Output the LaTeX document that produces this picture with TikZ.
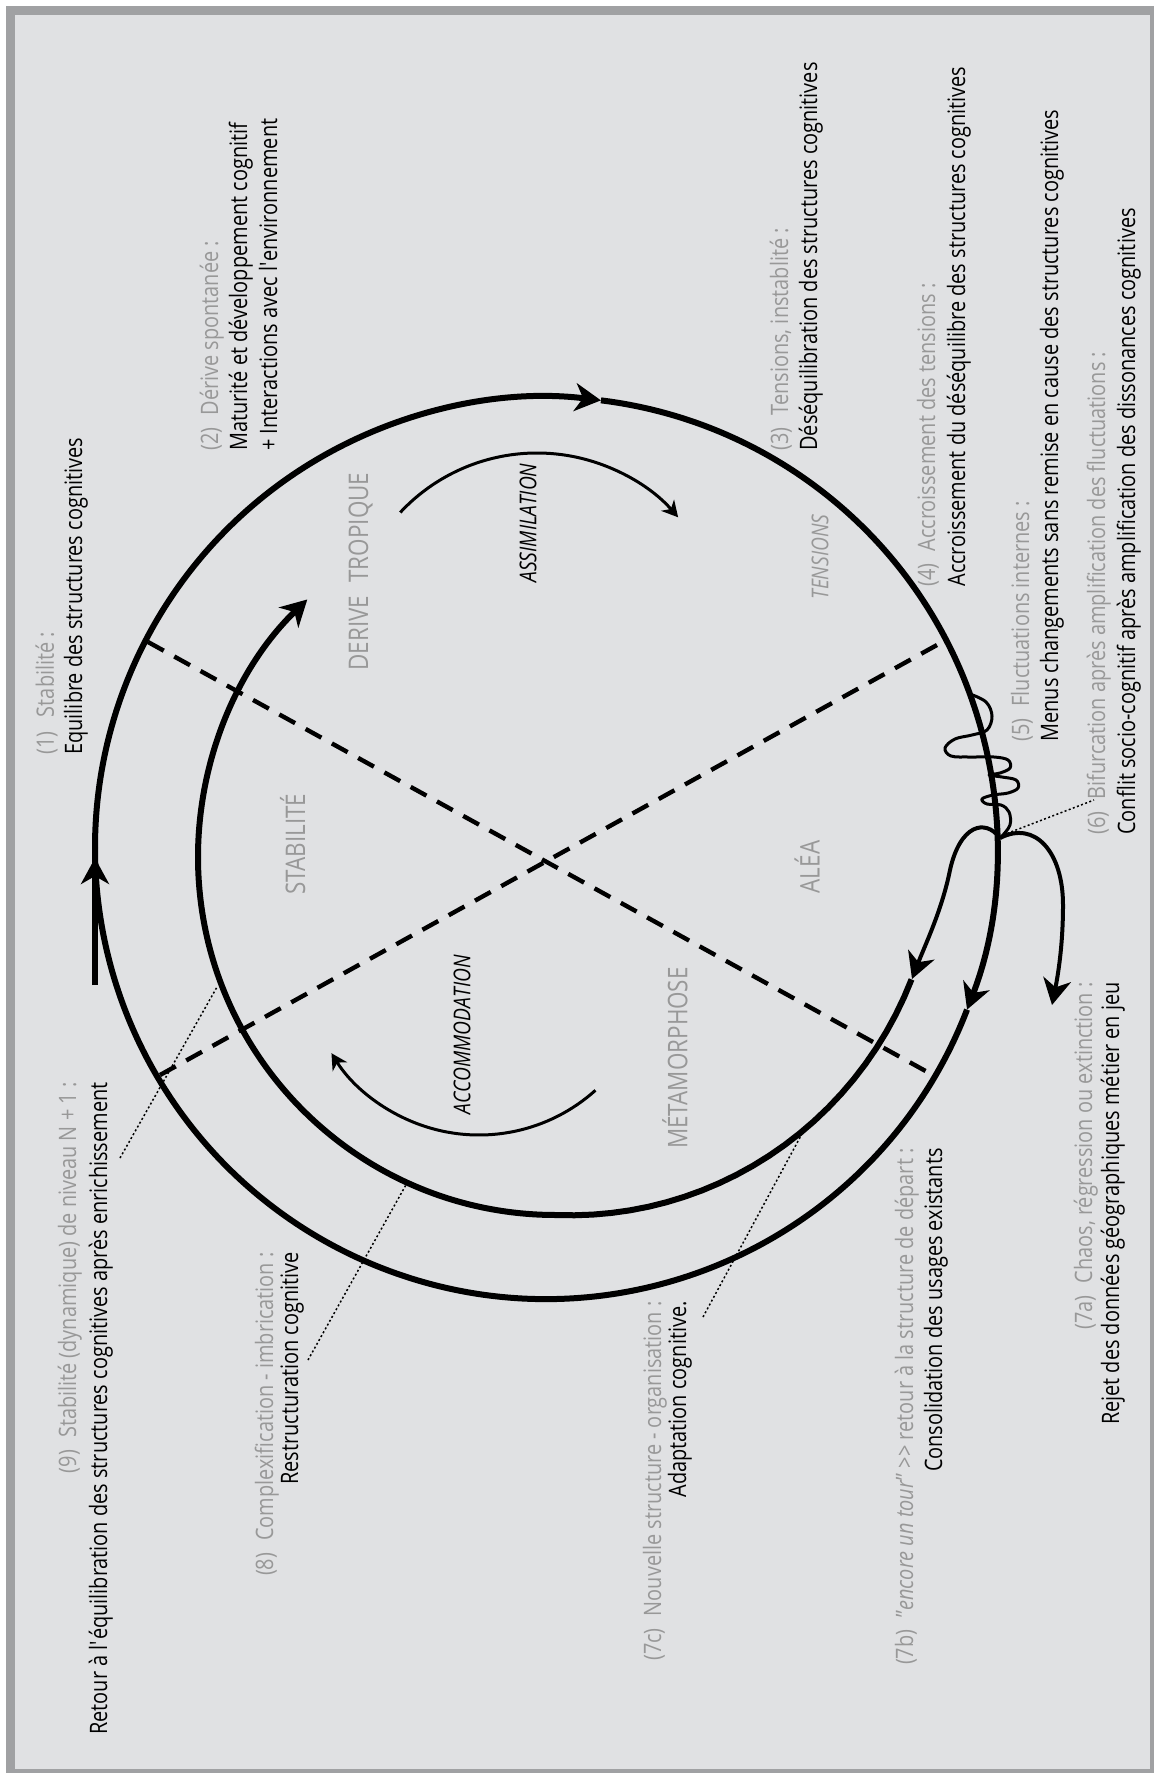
\documentclass[tikz,border=0pt]{standalone}
\usepackage{fontspec}
\setmainfont{Open Sans}[FakeStretch=0.83]
\usetikzlibrary{arrows.meta,calc}
\definecolor{panel}{RGB}{224,225,227}
\definecolor{framegray}{RGB}{160,161,163}
\definecolor{notegray}{RGB}{152,152,152}
\newcommand{\labfont}{\fontsize{12}{14}\selectfont}
\newcommand{\zonefont}{\fontsize{13.5}{16}\selectfont}
\newcommand{\verbfont}{\fontsize{11.6}{14}\selectfont\itshape}

\begin{document}
\begin{tikzpicture}[x=0.5pt, y=-0.5pt,
    lab/.style={rotate=90, inner sep=0pt, font=\labfont},
    note/.style={lab, text=notegray},
    zone/.style={rotate=90, inner sep=0pt, text=notegray, font=\zonefont},
    verb/.style={rotate=90, inner sep=0pt, font=\verbfont},
    cyc/.style={line width=3pt},
    branch/.style={line width=2pt},
    swirl/.style={line width=1.5pt},
    split/.style={line width=2.2pt, dash pattern=on 9pt off 6pt},
    lead/.style={line width=0.75pt, dash pattern=on 1pt off 1.2pt},
    headbig/.style={-{Stealth[length=13pt, width=14pt, inset=4pt]}},
    headsmall/.style={-{Stealth[length=8pt, width=8.5pt, inset=2.5pt]}}
  ]
  \useasboundingbox (0,0) rectangle (1157,1776);
  \fill[white] (0,0) rectangle (1157,1776);
  \fill[framegray] (6,6) rectangle (1154,1773);
  \fill[panel] (15,15) rectangle (1150,1769);

  \coordinate (C) at (546,848);
  \coordinate (J) at (1000,838);

  % quadrants
  \coordinate (a1) at (148,642);
  \coordinate (a2) at (931,1074);
  \coordinate (b1) at (160,1075);
  \coordinate (b2) at (946,640);
  \draw[split] (a1) -- (a2);
  \draw[split] (b1) -- (b2);

  % outer cycle
  \draw[cyc, headbig] (95,985) -- (95,858);
  \draw[cyc, headbig] ($(C)+(180:451)$) arc[start angle=180, end angle=277, radius=451];
  \draw[cyc, headbig] ($(C)+(277:451)$) arc[start angle=277, end angle=381, radius=451];
  \draw[cyc] ($(C)+(21:451)$) arc[start angle=21, end angle=180, radius=451];

  % fluctuations and bifurcation
  \draw[line width=1.5pt, line join=round] plot[smooth, tension=0.6] coordinates {
    (970,694) (986,702) (992,716) (987,730) (972,735) (955,739) (945,748) (951,756)
    (970,757) (994,757) (1008,760) (1010,768) (1000,773) (989,775) (1002,777)
    (1016,780) (1018,788) (1008,793) (993,795) (982,799) (987,804) (1001,805)
    (1009,812) (1010,825) (1002,836)};
  \draw[branch, headbig] (J) .. controls (1035,820) and (1063,852) .. (1063,905)
    .. controls (1063,945) and (1058,975) .. (1052,1005);
  \draw[branch, headbig] (J) .. controls (985,818) and (960,825) .. (950,870)
    .. controls (942,910) and (925,945) .. (912,979);
  \draw[cyc, headbig] plot[domain=19:90, samples=25]
    ({556+(376-18*(\x-19)/71)*cos(\x)}, {857+(376-18*(\x-19)/71)*sin(\x)})
    arc[start angle=90, end angle=226, radius=358];

  % assimilation / accommodation
  \draw[swirl, headsmall] ($(537,640)+(223:187)$) arc[start angle=223, end angle=319, radius=187];
  \draw[swirl, headsmall] ($(479,961)+(48:174)$) arc[start angle=48, end angle=148, radius=174];

  % zones
  \node[zone, anchor=base west] (z1) at (368,671) {DERIVE\hspace{0.5em}TROPIQUE};
  \node[zone, anchor=base west] (z2) at (305,895) {STABILITÉ};
  \node[zone] (z3) at (807,867) {ALÉA};
  \node[zone] (z4) at (675,1058) {MÉTAMORPHOSE};
  \node[verb, text=notegray] (v0) at (820,557) {TENSIONS};
  \node[verb] (v1) at (528,523) {ASSIMILATION};
  \node[verb] (v2) at (462,1035) {ACCOMMODATION};

  % stages, upper side
  \node[note, anchor=base west] (s1) at (54,755) {(1)\hspace{0.6em}Stabilité :};
  \node[lab, anchor=base west] (s1t) at ($(s1.base west)+(28,0)$) {Equilibre des structures cognitives};
  \node[note, anchor=base west] (s2) at (218,451) {(2)\hspace{0.5em}Dérive spontanée :};
  \node[lab, anchor=base west] (s2t) at ($(s2.base west)+(29,0)$) {Maturité et développement cognitif};
  \node[lab, anchor=base west] (s2u) at ($(s2t.base west)+(30,0)$) {+ Interactions avec l\textquotesingle environnement};
  \node[note, anchor=base west] (s3) at (788,451) {(3)\hspace{0.5em}Tensions, instablité :};
  \node[lab, anchor=base west] (s3t) at ($(s3.base west)+(29,0)$) {Déséquilibration des structures cognitives};
  \node[note, anchor=base west] (s4) at (935,587) {(4)\hspace{0.5em}Accroissement des tensions :};
  \node[lab, anchor=base west] (s4t) at ($(s4.base west)+(30,0)$) {Accroissement du déséquilibre des structures cognitives};
  \node[note, anchor=base west] (s5) at (1029,742) {(5)\hspace{0.5em}Fluctuations internes :};
  \node[lab, anchor=base west] (s5t) at ($(s5.base west)+(29,0)$) {Menus changements sans remise en cause des structures cognitives};
  \node[note, anchor=base west] (s6) at (1105,835) {(6)\hspace{0.5em}Bifurcation après amplification des fluctuations :};
  \node[lab, anchor=base west] (s6t) at ($(s6.base west)+(30,0)$) {Conflit socio-cognitif après amplification des dissonances cognitives};

  % stages, lower side
  \node[note, anchor=base east] (s7a) at (1092,982) {(7a)\hspace{0.5em}Chaos, régression ou extinction :};
  \node[lab, anchor=base east] (s7at) at ($(s7a.base east)+(27,0)$) {Rejet des données géographiques métier en jeu};
  \node[note, anchor=base east] (s7b) at (913,1148) {(7b)\hspace{0.5em}"\textit{encore un tour}" >\kern0pt> retour à la structure de départ :};
  \node[lab, anchor=base east] (s7bt) at ($(s7b.base east)+(29,0)$) {Consolidation des usages existants};
  \node[note, anchor=base east] (s7c) at (661,1301) {(7c)\hspace{0.5em}Nouvelle structure - organisation :};
  \node[lab, anchor=base east] (s7ct) at ($(s7c.base east)+(25,0)$) {Adaptation cognitive.};
  \node[note, anchor=base east] (s8) at (273,1252) {(8)\hspace{0.5em}Complexification - imbrication :};
  \node[lab, anchor=base east] (s8t) at ($(s8.base east)+(25,0)$) {Restructuration cognitive};
  \node[note, anchor=base east] (s9) at (76,1082) {(9)\hspace{0.5em}Stabilité (dynamique) de niveau N + 1 :};
  \node[lab, anchor=base east] (s9t) at ($(s9.base east)+(31,0)$) {Retour à l\textquotesingle équilibration des structures cognitives après enrichissement};

  % leaders
  \coordinate (l9) at (217,987);
  \coordinate (l8) at (407,1183);
  \coordinate (l7) at (804,1130);
  \coordinate (l6) at (1094,800);
  \draw[lead] (120,1158) -- (l9);
  \draw[lead] (308,1360) -- (l8);
  \draw[lead] (703,1317) -- (l7);
  \draw[lead] (1003,835) -- (l6);
\end{tikzpicture}
\end{document}
